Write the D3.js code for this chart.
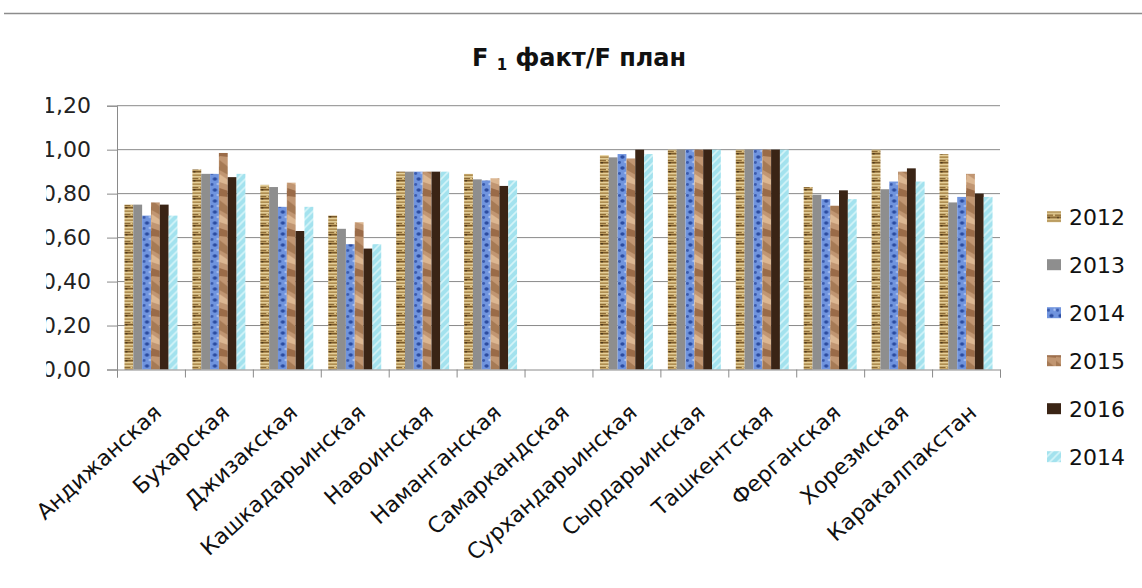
<!DOCTYPE html>
<html>
<head>
<meta charset="utf-8">
<script src="https://cdn.jsdelivr.net/npm/d3@7"></script>
<style>
  body { margin: 0; background: #fff; }
  svg { display: block; }
</style>
</head>
<body>
<svg id="chart" width="1142" height="588"></svg>
<script>
// Regions (categories) along the x axis
const regions = ["Андижанская", "Бухарская", "Джизакская", "Кашкадарьинская", "Навоинская",
  "Наманганская", "Самаркандская", "Сурхандарьинская", "Сырдарьинская", "Ташкентская",
  "Ферганская", "Хорезмская", "Каракалпакстан"];

// Legend labels, one per series (the last series is labelled 2014 as well)
const seriesNames = ["2012", "2013", "2014", "2015", "2016", "2014"];

// F1 fact / F plan ratio per region (null = no data)
const values2012  = [0.75, 0.91, 0.84, 0.70, 0.90, 0.89, null, 0.975, 1.00, 1.00, 0.83, 1.00, 0.98];
const values2013  = [0.75, 0.89, 0.83, 0.64, 0.90, 0.865, null, 0.965, 1.00, 1.00, 0.795, 0.82, 0.76];
const values2014  = [0.70, 0.89, 0.74, 0.57, 0.90, 0.86, null, 0.98, 1.00, 1.00, 0.775, 0.855, 0.785];
const values2015  = [0.76, 0.985, 0.85, 0.67, 0.90, 0.87, null, 0.96, 1.00, 1.00, 0.745, 0.90, 0.89];
const values2016  = [0.75, 0.875, 0.63, 0.55, 0.90, 0.835, null, 1.00, 1.00, 1.00, 0.815, 0.915, 0.80];
const values2014b = [0.70, 0.89, 0.74, 0.57, 0.90, 0.86, null, 0.98, 1.00, 1.00, 0.775, 0.855, 0.785];

// Value-axis tick values
const yTicks = [0, 0.2, 0.4, 0.6, 0.8, 1.0, 1.2];

const seriesValues = [values2012, values2013, values2014, values2015, values2016, values2014b];
const fills = ["url(#p2012)", "#8e8e8e", "url(#p2014)", "url(#p2015)", "#3a2415", "url(#p2014b)"];

const svg = d3.select("#chart");
const plot = { left: 117, right: 1000, top: 105.7, bottom: 369.5 };
const gridColor = "#8a8a8a";
const font = "'DejaVu Sans', sans-serif";

// ---- textured fills ----
const defs = svg.append("defs");

// 2012: woven straw texture
const p1 = defs.append("pattern").attr("id", "p2012").attr("patternUnits", "userSpaceOnUse")
  .attr("width", 9).attr("height", 9);
p1.append("rect").attr("width", 9).attr("height", 9).attr("fill", "#cdae70");
[[0, 1.4, "#7a5a2a"], [2.2, 1, "#ecd9a4"], [3.6, 1.2, "#a8864a"], [5.4, 0.9, "#f1e2b3"], [6.8, 1.4, "#8b6a35"]]
  .forEach(([yy, h, c]) => p1.append("rect").attr("x", 0).attr("y", yy).attr("width", 9).attr("height", h).attr("fill", c));
p1.append("rect").attr("x", 1).attr("y", 0).attr("width", 2).attr("height", 1.4).attr("fill", "#4f3a1c");
p1.append("rect").attr("x", 6).attr("y", 6.8).attr("width", 2).attr("height", 1.4).attr("fill", "#e3c98c");

// 2014: blue dotted texture
const p3 = defs.append("pattern").attr("id", "p2014").attr("patternUnits", "userSpaceOnUse")
  .attr("width", 9).attr("height", 11);
p3.append("rect").attr("width", 9).attr("height", 11).attr("fill", "#7094de");
p3.append("ellipse").attr("cx", 4.5).attr("cy", 3).attr("rx", 2.2).attr("ry", 1.8).attr("fill", "#2c4ca0");
p3.append("ellipse").attr("cx", 1.5).attr("cy", 8.5).attr("rx", 1.6).attr("ry", 1.4).attr("fill", "#3a5aac");
p3.append("ellipse").attr("cx", 7.5).attr("cy", 8).attr("rx", 1.2).attr("ry", 1.2).attr("fill", "#adc4f2");

// 2015: crumpled tan paper
const p4 = defs.append("pattern").attr("id", "p2015").attr("patternUnits", "userSpaceOnUse")
  .attr("width", 9).attr("height", 40);
p4.append("rect").attr("width", 9).attr("height", 40).attr("fill", "#c19672");
p4.append("polygon").attr("points", "0,0 9,7 9,15 0,10").attr("fill", "#a67a55");
p4.append("polygon").attr("points", "0,14 9,20 9,25 0,22").attr("fill", "#dcb792");
p4.append("polygon").attr("points", "0,28 9,31 9,37 0,36").attr("fill", "#9a6b48");

// 2014 (second): light cyan with diagonal hatching
const p6 = defs.append("pattern").attr("id", "p2014b").attr("patternUnits", "userSpaceOnUse")
  .attr("width", 8).attr("height", 8);
p6.append("rect").attr("width", 8).attr("height", 8).attr("fill", "#a3e2ee");
p6.append("path").attr("d", "M-2,2 L2,-2 M0,8 L8,0 M6,10 L10,6")
  .attr("stroke", "#d4f4f8").attr("stroke-width", 1.6);

// ---- frame line across the top ----
svg.append("line").attr("x1", 4).attr("x2", 1142).attr("y1", 13.5).attr("y2", 13.5)
  .attr("stroke", "#8c8c8c").attr("stroke-width", 1.6);

// ---- title ----
const title = svg.append("text").attr("x", 579).attr("y", 66).attr("text-anchor", "middle")
  .attr("font-family", font).attr("font-weight", "bold").attr("font-size", 24).attr("fill", "#111");
title.append("tspan").text("F ");
title.append("tspan").attr("font-size", 15).attr("dy", 4).text("1");
title.append("tspan").attr("dy", -4).text(" факт/F план");

// ---- scales ----
const x = d3.scaleBand().domain(d3.range(regions.length))
  .range([plot.left, plot.right]).paddingInner(0.22).paddingOuter(0.11);
const xs = d3.scaleBand().domain(d3.range(seriesNames.length)).range([0, x.bandwidth()]);
const y = d3.scaleLinear().domain([0, 1.2]).range([plot.bottom, plot.top]);
const fmt = v => d3.format(".2f")(v).replace(".", ",");

// ---- gridlines ----
svg.append("g").selectAll("line").data(yTicks.filter(v => v > 0)).join("line")
  .attr("x1", plot.left).attr("x2", plot.right)
  .attr("y1", d => y(d)).attr("y2", d => y(d))
  .attr("stroke", gridColor).attr("stroke-width", 1);

// ---- y axis ----
const yAxis = svg.append("g").attr("transform", `translate(${plot.left},0)`)
  .call(d3.axisLeft(y).tickValues(yTicks).tickFormat(fmt).tickSize(10).tickPadding(16));
yAxis.select(".domain").attr("stroke", gridColor);
yAxis.selectAll(".tick line").attr("stroke", gridColor);
yAxis.selectAll(".tick text").attr("font-family", font).attr("font-size", 22).attr("fill", "#222");

// the chart area ends just inside the leading digit of the value labels
const firstChar = yAxis.select(".tick text").node().getExtentOfChar(0);
defs.append("clipPath").attr("id", "yclip").append("rect")
  .attr("x", firstChar.x + firstChar.width * 0.3).attr("y", -50)
  .attr("width", 300).attr("height", 700);
yAxis.attr("clip-path", "url(#yclip)");

// ---- bars ----
const groups = svg.append("g").selectAll("g").data(regions).join("g")
  .attr("transform", (d, i) => `translate(${x(i)},0)`);
groups.selectAll("rect")
  .data((d, i) => seriesValues.map((vals, s) => ({ s, v: vals[i] })).filter(e => e.v != null))
  .join("rect")
  .attr("x", d => xs(d.s)).attr("width", xs.bandwidth())
  .attr("y", d => y(d.v)).attr("height", d => y(0) - y(d.v))
  .attr("fill", d => fills[d.s]);

// ---- x axis: boundary ticks ----
const xb = d3.scaleLinear().domain([0, regions.length]).range([plot.left, plot.right]);
const xAxis = svg.append("g").attr("transform", `translate(0,${plot.bottom})`)
  .call(d3.axisBottom(xb).tickValues(d3.range(regions.length + 1)).tickFormat("").tickSize(8));
xAxis.select(".domain").attr("stroke", gridColor);
xAxis.selectAll(".tick line").attr("stroke", gridColor);

// ---- category labels (rotated) ----
svg.append("g").selectAll("text").data(regions).join("text")
  .attr("transform", (d, i) => `translate(${x(i) + x.bandwidth() / 2 + 12},${plot.bottom + 45}) rotate(-42)`)
  .attr("text-anchor", "end")
  .attr("font-family", font).attr("font-size", 22).attr("fill", "#111")
  .text(d => d);

// ---- legend ----
const legend = svg.append("g").selectAll("g").data(seriesNames).join("g")
  .attr("transform", (d, i) => `translate(1047,${216.7 + i * 48})`);
legend.append("rect").attr("x", 0).attr("y", -5.5).attr("width", 14).attr("height", 11)
  .attr("fill", (d, i) => fills[i]);
legend.append("text").attr("x", 22).attr("y", 0).attr("dy", "0.36em")
  .attr("font-family", font).attr("font-size", 22).attr("fill", "#111")
  .text(d => d);
</script>
</body>
</html>
